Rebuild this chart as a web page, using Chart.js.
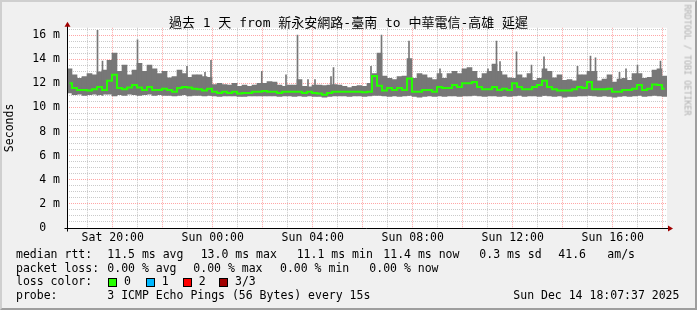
<!DOCTYPE html>
<html>
<head>
<meta charset="utf-8">
<script src="https://cdn.jsdelivr.net/npm/chart.js@4.4.1/dist/chart.umd.min.js"></script>
<style>
body { margin: 0; background: #fff; }
#graph { position: relative; width: 697px; height: 310px; background: #f0f0f0; overflow: hidden;
  font-family: "DejaVu Sans Mono", "Noto Sans CJK TC", monospace; color: #000; }
#graph canvas { position: absolute; left: 0; top: 0; }
#frame { position: absolute; left: 0; top: 0; width: 697px; height: 310px; box-sizing: border-box;
  border: 2px solid; border-color: #cfcfcf #9e9e9e #9e9e9e #cfcfcf; pointer-events: none; }
.t { position: absolute; white-space: pre; font-size: 11.5px; line-height: 11.5px; }
.box { position: absolute; width: 9px; height: 9px; box-sizing: border-box; border: 1px solid #000; top: 277.5px; }
#title { position: absolute; left: 0; top: 15.5px; width: 697px; text-align: center; white-space: pre;
  font-size: 13px; line-height: 13px; }
#credit { position: absolute; left: 686.5px; top: 60px; white-space: pre; font-size: 8.4px; line-height: 9px;
  color: #b0b0b0; transform: translate(-50%, -50%) rotate(90deg); }
</style>
</head>
<body>
<div id="graph">
  <canvas id="chart" width="697" height="310"></canvas>
  <div id="title">過去 1 天 from 新永安網路-臺南 to 中華電信-高雄 延遲</div>
  <div id="credit">RRDTOOL / TOBI OETIKER</div>

  <span class="t" style="left:16px;top:248.8px">median rtt:</span>
  <span class="t" style="left:107.3px;top:248.8px">11.5 ms avg</span>
  <span class="t" style="left:200.7px;top:248.8px">13.0 ms max</span>
  <span class="t" style="left:296.7px;top:248.8px">11.1 ms min</span>
  <span class="t" style="left:383.3px;top:248.8px">11.4 ms now</span>
  <span class="t" style="left:479.3px;top:248.8px">0.3 ms sd</span>
  <span class="t" style="left:558.3px;top:248.8px">41.6</span>
  <span class="t" style="left:607.3px;top:248.8px">am/s</span>

  <span class="t" style="left:16px;top:262.6px">packet loss:</span>
  <span class="t" style="left:107.3px;top:262.6px">0.00 % avg</span>
  <span class="t" style="left:193.3px;top:262.6px">0.00 % max</span>
  <span class="t" style="left:280px;top:262.6px">0.00 % min</span>
  <span class="t" style="left:369.3px;top:262.6px">0.00 % now</span>

  <span class="t" style="left:16px;top:276.4px">loss color:</span>
  <span class="box" style="left:108px;background:#26ff00"></span>
  <span class="t" style="left:124px;top:276.4px">0</span>
  <span class="box" style="left:145.5px;background:#00b8ff"></span>
  <span class="t" style="left:161.7px;top:276.4px">1</span>
  <span class="box" style="left:182.5px;background:#ff0000"></span>
  <span class="t" style="left:198.7px;top:276.4px">2</span>
  <span class="box" style="left:219px;background:#a10000"></span>
  <span class="t" style="left:235px;top:276.4px">3/3</span>

  <span class="t" style="left:16px;top:290.2px">probe:</span>
  <span class="t" style="left:107.3px;top:290.2px">3 ICMP Echo Pings (56 Bytes) every 15s</span>
  <span class="t" style="left:513.3px;top:290.2px">Sun Dec 14 18:07:37 2025</span>
  <div id="frame"></div>
</div>
<script>
// hours counted from Sat 00:00; each bin is 12 minutes wide
var X_MIN = 18.17;
var X_MAX = 42.17;
var BIN = 0.2;

var xTickHours = [20, 24, 28, 32, 36, 40];
var xTickLabels = ['Sat 20:00', 'Sun 00:00', 'Sun 04:00', 'Sun 08:00', 'Sun 12:00', 'Sun 16:00'];
var yTickValues = [0, 2, 4, 6, 8, 10, 12, 14, 16];
var yTickLabels = ['0  ', '2 m', '4 m', '6 m', '8 m', '10 m', '12 m', '14 m', '16 m'];

// smoke: highest ping per bin (ms)
var smokeMax = [
  13.2, 12.7, 12.4, 12.55, 12.8, 12.7, 12.95, 13.1, 13.9, 14.5, 13.0, 13.5, 12.7, 13.1, 13.65, 13.0, 13.5, 13.2, 12.8, 13.0,
  12.45, 12.55, 13.1, 12.8, 12.5, 12.7, 12.7, 12.55, 12.5, 11.9, 12.0, 11.9, 11.85, 12.0, 11.75, 11.85, 11.75, 11.85, 12.0, 12.0,
  12.15, 12.1, 11.85, 11.75, 11.85, 11.85, 12.3, 11.75, 11.7, 11.85, 11.85, 11.8, 11.85, 11.9, 11.85, 11.75, 11.65, 11.75, 11.8, 11.75,
  12.0, 12.8, 14.5, 12.6, 12.4, 12.3, 12.55, 12.6, 14.05, 12.4, 12.8, 12.7, 12.45, 12.3, 12.8, 12.4, 12.8, 13.0, 12.8, 13.2,
  13.3, 13.0, 12.4, 12.8, 13.0, 13.6, 13.0, 12.7, 12.45, 12.4, 12.7, 12.45, 12.8, 12.25, 12.4, 13.2, 13.0, 12.45, 12.7, 12.25,
  12.3, 12.2, 12.7, 12.7, 13.0, 13.0, 12.2, 12.35, 12.7, 12.1, 12.35, 12.4, 12.25, 12.8, 12.8, 12.4, 12.5, 13.1, 13.2, 12.6
];
// smoke: lowest ping per bin (ms)
var smokeMin = [
  11.2, 11.05, 11.1, 11.0, 11.05, 11.1, 11.05, 11.1, 11.1, 10.95, 11.05, 11.0, 11.1, 11.05, 11.0, 11.05, 11.1, 11.0, 11.05, 11.0,
  11.0, 10.95, 11.0, 11.05, 10.95, 11.0, 11.0, 10.95, 11.0, 10.95, 10.9, 10.95, 10.95, 10.95, 10.9, 10.9, 10.95, 10.95, 10.95, 10.95,
  10.95, 10.95, 10.9, 10.95, 10.95, 10.9, 10.95, 10.9, 10.95, 10.9, 10.9, 10.85, 10.9, 10.95, 10.95, 10.95, 10.9, 10.95, 10.95, 10.9,
  10.95, 11.0, 11.0, 10.95, 10.9, 10.95, 10.9, 10.95, 11.0, 10.9, 10.85, 10.9, 10.95, 10.9, 10.95, 10.9, 10.95, 10.95, 10.9, 10.95,
  10.95, 11.0, 10.95, 10.9, 10.95, 10.95, 10.9, 10.95, 10.9, 10.95, 11.0, 10.9, 10.95, 10.95, 10.9, 11.0, 10.95, 10.9, 10.95, 10.85,
  10.9, 10.9, 10.95, 10.95, 11.0, 10.95, 10.9, 10.95, 10.9, 10.85, 10.9, 10.95, 10.9, 10.95, 11.0, 10.9, 10.95, 11.0, 10.95, 10.9
];
// median rtt per bin (ms)
var median = [
  12.0, 11.6, 11.45, 11.45, 11.4, 11.5, 11.7, 11.45, 12.2, 12.7, 11.6, 11.5, 11.65, 11.85, 11.65, 11.45, 11.7, 11.45, 11.45, 11.55,
  11.45, 11.3, 11.6, 11.7, 11.65, 11.55, 11.5, 11.4, 11.55, 11.3, 11.2, 11.3, 11.2, 11.3, 11.15, 11.2, 11.2, 11.3, 11.3, 11.35,
  11.3, 11.3, 11.2, 11.3, 11.3, 11.3, 11.3, 11.2, 11.3, 11.2, 11.15, 11.05, 11.2, 11.3, 11.3, 11.3, 11.3, 11.3, 11.3, 11.25,
  11.3, 12.6, 11.8, 11.4, 11.6, 11.45, 11.6, 11.45, 12.4, 11.3, 11.3, 11.45, 11.45, 11.3, 11.7, 11.6, 11.6, 11.85, 11.7, 12.0,
  12.0, 12.1, 11.7, 11.5, 11.5, 11.7, 11.45, 11.55, 11.45, 12.0, 11.7, 11.5, 11.5, 11.7, 11.85, 12.2, 11.7, 11.5, 11.4, 11.4,
  11.4, 11.5, 11.7, 11.6, 12.1, 11.5, 11.5, 11.5, 11.55, 11.3, 11.3, 11.45, 11.45, 11.55, 11.85, 11.45, 11.55, 11.9, 11.85, 11.55
];
// single-sample spikes (hour, top in ms)
var spikeHours = [19.39, 19.59, 20.99, 22.97, 23.69, 23.93, 25.96, 26.93, 27.39, 27.81, 28.09, 28.73, 28.83, 30.33, 30.75,
  31.85, 33.09, 35.01, 35.35, 35.49, 36.15, 36.75, 37.25, 38.59, 39.11, 39.31, 40.27, 40.53, 40.99, 41.91];
var spikeTops = [16.4, 13.85, 15.6, 13.4, 12.9, 13.9, 13.0, 12.7, 16.0, 12.3, 12.3, 12.55, 13.3, 13.4, 16.0,
  15.5, 13.2, 13.2, 15.5, 13.8, 14.6, 13.5, 14.2, 13.4, 14.25, 14.1, 12.9, 13.2, 13.5, 13.85];
var SPIKE_BASE = 11.0;

var RED = 'rgba(255, 128, 128, 0.7)';
var GRAY = 'rgba(180, 180, 180, 0.7)';
var SMOKE = '#777777';
var monoFont = { family: '"DejaVu Sans Mono", monospace', size: 11.5 };

var gridHours = [];
for (var h = 19; h <= 42; h++) gridHours.push(h);
var gridMs = [];
for (var m = 0; m <= 16.5; m += 0.5) gridMs.push(m);

var smokeData = smokeMax.map(function (v, i) {
    return { x: X_MIN + BIN * i + BIN / 2, y: [smokeMin[i], v] };
});
var spikeData = spikeHours.map(function (h, i) {
    return { x: h, y: [SPIKE_BASE, spikeTops[i]] };
});
var medianData = median.map(function (v, i) {
    return { x: X_MIN + BIN * i + BIN / 2, y: v };
});

var plotFrame = {
    id: 'plotFrame',
    beforeDraw: function (chart) {
        var a = chart.chartArea, ctx = chart.ctx;
        ctx.save();
        ctx.fillStyle = '#ffffff';
        ctx.fillRect(a.left, a.top, a.right - a.left, a.bottom - a.top);
        ctx.restore();
    },
    afterDraw: function (chart) {
        var a = chart.chartArea, ctx = chart.ctx;
        var x0 = Math.round(a.left) + 0.5, y0 = Math.round(a.bottom) + 0.5;
        ctx.save();
        ctx.strokeStyle = '#000';
        ctx.lineWidth = 1;
        ctx.beginPath();
        ctx.moveTo(x0, a.top - 2);
        ctx.lineTo(x0, y0 + 3);
        ctx.moveTo(x0 - 3, y0);
        ctx.lineTo(a.right + 2, y0);
        ctx.stroke();
        ctx.fillStyle = '#a00000';
        ctx.beginPath();
        ctx.moveTo(x0 - 3, a.top - 1);
        ctx.lineTo(x0 + 3, a.top - 1);
        ctx.lineTo(x0, a.top - 6);
        ctx.closePath();
        ctx.fill();
        ctx.beginPath();
        ctx.moveTo(a.right + 1, y0 - 3);
        ctx.lineTo(a.right + 1, y0 + 3);
        ctx.lineTo(a.right + 6, y0);
        ctx.closePath();
        ctx.fill();
        ctx.restore();
    }
};

var ctx = document.getElementById('chart').getContext('2d');
var myChart = new Chart(ctx, {
    type: 'bar',
    data: {
        datasets: [{
            type: 'line',
            label: 'median rtt',
            data: medianData,
            borderColor: '#26ff00',
            borderWidth: 2,
            stepped: 'middle',
            pointRadius: 0,
            order: 0
        }, {
            label: 'spikes',
            data: spikeData,
            backgroundColor: SMOKE,
            borderWidth: 0,
            barThickness: 1,
            grouped: false,
            order: 1
        }, {
            label: 'smoke',
            data: smokeData,
            backgroundColor: SMOKE,
            borderWidth: 0,
            barThickness: 5,
            grouped: false,
            order: 2
        }]
    },
    options: {
        responsive: false,
        animation: false,
        events: [],
        layout: { padding: { left: 0, top: 27.8, right: 30, bottom: 0 } },
        plugins: { legend: { display: false }, tooltip: { enabled: false } },
        scales: {
            x: {
                type: 'linear',
                min: X_MIN,
                max: X_MAX,
                offset: false,
                z: 1,
                afterBuildTicks: function (s) {
                    s.ticks = gridHours.map(function (v) { return { value: v }; });
                },
                afterFit: function (s) { s.height = 82; },
                ticks: {
                    autoSkip: false,
                    maxRotation: 0,
                    padding: 3,
                    color: '#000',
                    font: monoFont,
                    callback: function (v) {
                        var k = xTickHours.indexOf(v);
                        return k < 0 ? '' : xTickLabels[k];
                    }
                },
                grid: {
                    offset: false,
                    drawTicks: false,
                    lineWidth: 1,
                    color: function (c) { return c.tick && c.tick.value % 2 === 0 ? RED : GRAY; }
                },
                border: { display: false, dash: [1, 1] }
            },
            y: {
                min: 0,
                max: 16.6,
                z: 1,
                afterBuildTicks: function (s) {
                    s.ticks = gridMs.map(function (v) { return { value: v }; });
                },
                afterFit: function (s) { s.width = 67; },
                ticks: {
                    autoSkip: false,
                    padding: 7,
                    color: '#000',
                    font: monoFont,
                    callback: function (v) {
                        var k = yTickValues.indexOf(v);
                        return k < 0 ? '' : yTickLabels[k];
                    }
                },
                grid: {
                    drawTicks: false,
                    lineWidth: 1,
                    color: function (c) { return c.tick && c.tick.value % 2 === 0 ? RED : GRAY; }
                },
                border: { display: false, dash: [1, 1] },
                title: {
                    display: true,
                    text: 'Seconds',
                    color: '#000',
                    font: monoFont,
                    padding: { top: 3, bottom: 0 }
                }
            }
        }
    },
    plugins: [plotFrame]
});
</script>
</body>
</html>
